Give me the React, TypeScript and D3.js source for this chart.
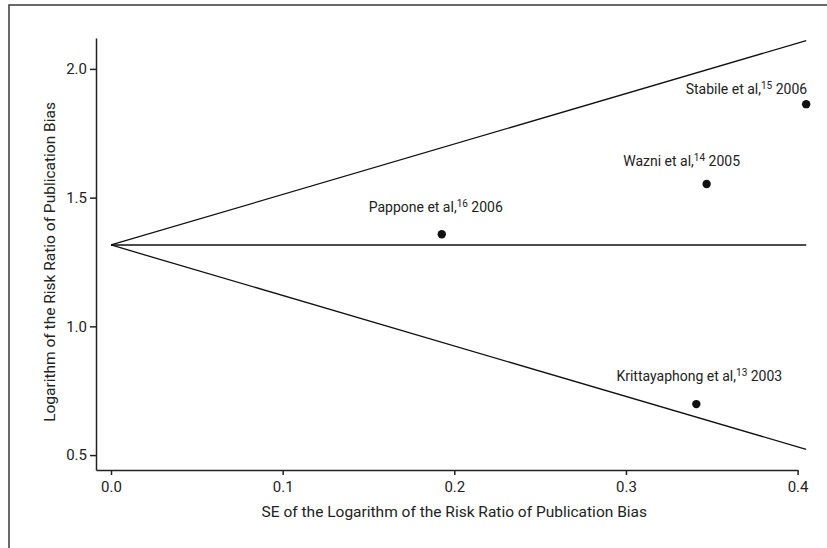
import React, { useEffect, useRef } from "react";
import * as d3 from "d3";

// study names, reference numbers, years
const studies = ["Krittayaphong et al,", "Pappone et al,", "Wazni et al,", "Stabile et al,"];
const refs = ["13", "16", "14", "15"];
const years = ["2003", "2006", "2005", "2006"];
// SE of log RR and log RR for each study
const seValues = [0.341, 0.1927, 0.347, 0.405];
const logRR = [0.698, 1.358, 1.553, 1.863];

// pooled estimate line and funnel limits (SE, logRR)
const pooledLine: [number, number][] = [[0, 1.316], [0.405, 1.316]];
const upperLimit: [number, number][] = [[0, 1.316], [0.405, 2.11]];
const lowerLimit: [number, number][] = [[0, 1.316], [0.405, 0.522]];

const xTicks = [0, 0.1, 0.2, 0.3, 0.4];
const yTicks = [0.5, 1.0, 1.5, 2.0];

// label placement relative to the dot
const labelDx = [3, -6, -25, 1];
const labelDy = [-23, -22, -18, -10];
const labelAnchor = ["middle", "middle", "middle", "end"];

const W = 827;
const H = 548;
const FONT = "Roboto, 'Liberation Sans', sans-serif";

const App = () => {
  const svgRef = useRef(null);

  useEffect(() => {
    const svg = d3.select(svgRef.current);
    svg.selectAll("*").remove();

    // outer frame (open on right/bottom, runs past the picture)
    svg.append("rect")
      .attr("x", 9).attr("y", 5)
      .attr("width", W + 20).attr("height", H + 20)
      .attr("fill", "none")
      .attr("stroke", "#444")
      .attr("stroke-width", 1.6);

    const x = d3.scaleLinear().domain([-0.00874, 0.4]).range([96, 797.6]);
    const y = d3.scaleLinear().domain([0.442, 2.12]).range([470, 38]);

    const xAxis = svg.append("g")
      .attr("transform", `translate(0,470)`)
      .call(d3.axisBottom(x).tickValues(xTicks).tickFormat(d3.format(".1f"))
        .tickSize(5).tickSizeOuter(0).tickPadding(6));

    const yAxis = svg.append("g")
      .attr("transform", `translate(96,0)`)
      .call(d3.axisLeft(y).tickValues(yTicks).tickFormat(d3.format(".1f"))
        .tickSize(6).tickSizeOuter(0).tickPadding(3));

    [xAxis, yAxis].forEach(g => {
      g.selectAll("path").attr("stroke", "#222").attr("stroke-width", 1.5);
      g.selectAll("line").attr("stroke", "#222").attr("stroke-width", 1.5);
      g.selectAll("text")
        .attr("font-family", FONT)
        .attr("font-size", 15)
        .attr("fill", "#222");
    });

    // funnel lines
    const line = d3.line<[number, number]>().x(d => x(d[0])).y(d => y(d[1]));
    [pooledLine, upperLimit, lowerLimit].forEach(l => {
      svg.append("path")
        .attr("d", line(l))
        .attr("fill", "none")
        .attr("stroke", "#111")
        .attr("stroke-width", 1.3);
    });

    // study points
    svg.selectAll("circle.pt")
      .data(seValues)
      .enter()
      .append("circle")
      .attr("class", "pt")
      .attr("cx", d => x(d))
      .attr("cy", (d, i) => y(logRR[i]))
      .attr("r", 4.2)
      .attr("fill", "#111");

    // study labels
    studies.forEach((name, i) => {
      const t = svg.append("text")
        .attr("x", x(seValues[i]) + labelDx[i])
        .attr("y", y(logRR[i]) + labelDy[i])
        .attr("text-anchor", labelAnchor[i])
        .attr("font-family", FONT)
        .attr("font-size", 14)
        .attr("fill", "#222");
      t.append("tspan").text(name);
      t.append("tspan").attr("font-size", 10).attr("dy", -5).text(refs[i]);
      t.append("tspan").attr("dy", 5).text(" " + years[i]);
    });

    // axis titles
    svg.append("text")
      .attr("x", x(0.2))
      .attr("y", 516.5)
      .attr("text-anchor", "middle")
      .attr("font-family", FONT)
      .attr("font-size", 15.5)
      .attr("fill", "#222")
      .text("SE of the Logarithm of the Risk Ratio of Publication Bias");

    svg.append("text")
      .attr("transform", `translate(55,${y(1.25)}) rotate(-90)`)
      .attr("text-anchor", "middle")
      .attr("font-family", FONT)
      .attr("font-size", 15.5)
      .attr("fill", "#222")
      .text("Logarithm of the Risk Ratio of Publication Bias");
  }, []);

  return (
    <svg
      ref={svgRef}
      width={W}
      height={H}
      style={{ position: "absolute", left: 0, top: 0, background: "#fff" }}
    />
  );
};

export default App;
